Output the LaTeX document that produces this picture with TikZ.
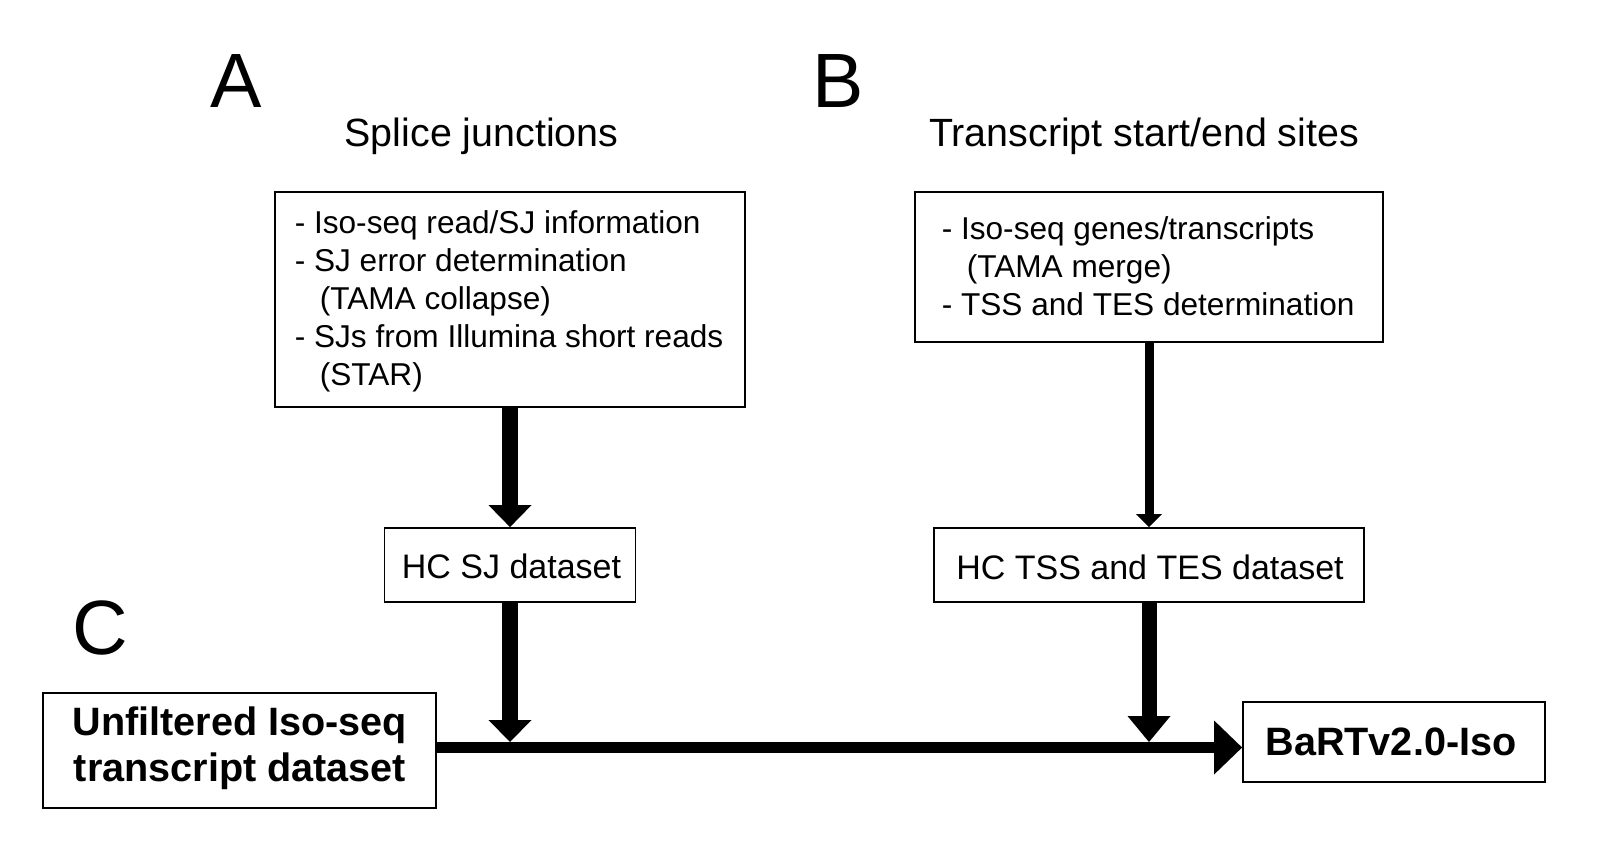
\documentclass[tikz,border=0pt]{standalone}
\usepackage{fontspec}
\setmainfont{Liberation Sans}
\usetikzlibrary{arrows.meta}
\begin{document}
\begin{tikzpicture}[x=1pt,y=-1pt,
  boxst/.style={draw=black, line width=1.8pt, inner sep=0pt},
  txt/.style={inner sep=0pt, anchor=base},
  bigletter/.style={inner sep=0pt, anchor=base west, font=\fontsize{77}{80}\selectfont},
  heading/.style={txt, font=\fontsize{39.4}{44}\selectfont},
  bodytext/.style={inner sep=0pt, anchor=base west, font=\fontsize{31.6}{38.2}\selectfont},
  hctext/.style={txt, font=\fontsize{34}{40}\selectfont},
  boldtext/.style={txt, font=\fontsize{39.6}{46}\selectfont\bfseries},
  thickarrow/.style={line width=16pt, -{Triangle[width=43pt,length=22pt,line width=0pt]}},
  thinarrow/.style={line width=9pt, -{Triangle[width=26pt,length=13pt,line width=0pt]}},
  mainarrow/.style={line width=11pt, -{Triangle[width=54pt,length=28pt,line width=0pt]}}
]
\useasboundingbox (0,0) rectangle (1610,846);
\fill[white] (0,0) rectangle (1610,846);

% panel letters
\node[bigletter] (letA) at (210,107) {A};
\node[bigletter] (letB) at (812,107) {B};
\node[bigletter] (letC) at (72,654) {C};

% headings
\node[heading] (headA) at (481.5,146) {Splice junctions};
\node[heading] (headB) at (1144,146) {Transcript start/end sites};

% boxes
\node[boxst, minimum width=470pt, minimum height=215pt] (boxA) at (510,299.5) {};
\node[boxst, minimum width=468pt, minimum height=150pt] (boxB) at (1149,267) {};
\node[boxst, minimum width=251pt, minimum height=74pt] (hcsj) at (510,565) {};
\node[boxst, minimum width=430pt, minimum height=74pt] (hctss) at (1149,565) {};
\node[boxst, minimum width=393pt, minimum height=115pt] (unf) at (239.5,750.5) {};
\node[boxst, minimum width=302pt, minimum height=80pt] (bart) at (1394,742) {};

% texts
\node[bodytext] (tA) at (294.6,233) {\begin{tabular}[t]{@{}l@{}}- Iso-seq read/SJ information\\- SJ error determination\\\hspace*{25pt}(TAMA collapse)\\- SJs from Illumina short reads\\\hspace*{25pt}(STAR)\end{tabular}};
\node[bodytext] (tB) at (941.6,239) {\begin{tabular}[t]{@{}l@{}}- Iso-seq genes/transcripts\\\hspace*{25pt}(TAMA merge)\\- TSS and TES determination\end{tabular}};
\node[hctext] (tsj) at (511.5,578) {HC SJ dataset};
\node[hctext] (ttss) at (1150,579.5) {HC TSS and TES dataset};
\node[boldtext] (tunf) at (240,735) {\begin{tabular}[t]{@{}c@{}}Unfiltered Iso-seq\\transcript dataset\end{tabular}};
\node[boldtext] (tbart) at (1391,755) {BaRTv2.0-Iso};

% connectors
\coordinate (lineY) at (0,747.5);
\coordinate (lineTop) at (0,742);
\draw[thickarrow] (boxA.south) -- (hcsj.north);
\draw[thinarrow] (boxB.south) -- (hctss.north);
\draw[mainarrow] (unf.east |- lineY) -- (bart.west |- lineY);
\draw[thickarrow] (hcsj.south) -- (hcsj.south |- lineTop);
\draw[line width=15pt, -{Triangle[width=43pt,length=26pt,line width=0pt]}] (hctss.south) -- (hctss.south |- lineTop);
\end{tikzpicture}
\end{document}
